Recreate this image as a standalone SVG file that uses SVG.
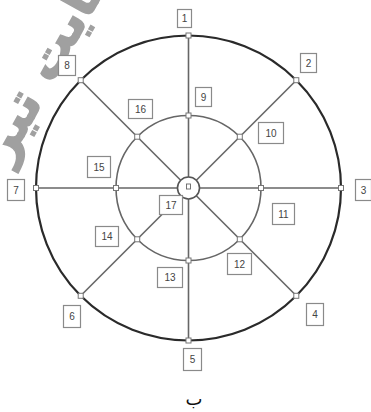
<svg xmlns="http://www.w3.org/2000/svg" width="371" height="412" viewBox="0 0 371 412">
<style>
.lbl rect{fill:#fff;stroke:#8a8a8a;stroke-width:1.2}
.lbl text{font-family:"Liberation Sans",Arial,sans-serif;font-size:10px;fill:#444;text-anchor:middle}
.pt{fill:#fff;stroke:#777;stroke-width:1}
.ray{stroke:#666;stroke-width:1.6;fill:none}
</style>
<rect width="371" height="412" fill="#fff"/>
<text x="0" y="0" transform="translate(8,165) rotate(-61)" font-family="'DejaVu Sans',sans-serif" font-weight="bold" font-size="52" fill="#a0a0a0" stroke="#a0a0a0" stroke-width="1.5">سایت تیر</text>
<g id="connectors">
<circle cx="188.5" cy="188" r="152.5" fill="none" stroke="#2a2a2a" stroke-width="2.2"/>
<circle cx="188.5" cy="188" r="72.5" fill="none" stroke="#666" stroke-width="1.6"/>
<line class="ray" x1="188.5" y1="177" x2="188.5" y2="35.5"/>
<line class="ray" x1="188.5" y1="199" x2="188.5" y2="340.5"/>
<line class="ray" x1="177.5" y1="188" x2="36" y2="188"/>
<line class="ray" x1="199.5" y1="188" x2="341" y2="188"/>
<line class="ray" x1="196.3" y1="180.2" x2="296.3" y2="80.2"/>
<line class="ray" x1="196.3" y1="195.8" x2="296.3" y2="295.8"/>
<line class="ray" x1="180.7" y1="195.8" x2="80.7" y2="295.8"/>
<line class="ray" x1="180.7" y1="180.2" x2="80.7" y2="80.2"/>
</g>
<g id="node0"><circle cx="188.5" cy="188" r="11" fill="#fff" stroke="#555" stroke-width="1.6"/><rect x="186.5" y="184" width="4" height="5" fill="none" stroke="#666" stroke-width="0.9"/></g>
<g id="points">
<rect class="pt" x="186" y="33" width="5" height="5"/>
<rect class="pt" x="293.8" y="77.7" width="5" height="5"/>
<rect class="pt" x="338.5" y="185.5" width="5" height="5"/>
<rect class="pt" x="293.8" y="293.3" width="5" height="5"/>
<rect class="pt" x="186" y="338" width="5" height="5"/>
<rect class="pt" x="78.2" y="293.3" width="5" height="5"/>
<rect class="pt" x="33.5" y="185.5" width="5" height="5"/>
<rect class="pt" x="78.2" y="77.7" width="5" height="5"/>
<rect class="pt" x="186" y="113" width="5" height="5"/>
<rect class="pt" x="237.3" y="134.2" width="5" height="5"/>
<rect class="pt" x="258.5" y="185.5" width="5" height="5"/>
<rect class="pt" x="237.3" y="236.8" width="5" height="5"/>
<rect class="pt" x="186" y="258" width="5" height="5"/>
<rect class="pt" x="134.7" y="236.8" width="5" height="5"/>
<rect class="pt" x="113.5" y="185.5" width="5" height="5"/>
<rect class="pt" x="134.7" y="134.2" width="5" height="5"/>
</g>
<g id="n1" class="lbl"><rect x="177.5" y="9.5" width="14" height="18"/><text x="184.5" y="22">1</text></g>
<g id="n2" class="lbl"><rect x="300.5" y="53.5" width="16" height="19"/><text x="308.5" y="66.5">2</text></g>
<g id="n3" class="lbl"><rect x="355.5" y="179.5" width="16" height="21"/><text x="363.5" y="194">3</text></g>
<g id="n4" class="lbl"><rect x="306.5" y="303.5" width="17" height="22"/><text x="315" y="318">4</text></g>
<g id="n5" class="lbl"><rect x="183.5" y="348.5" width="18" height="22"/><text x="192.5" y="363">5</text></g>
<g id="n6" class="lbl"><rect x="63.5" y="305.5" width="17" height="22"/><text x="72" y="320">6</text></g>
<g id="n7" class="lbl"><rect x="7.5" y="179.5" width="17" height="21"/><text x="16" y="194">7</text></g>
<g id="n8" class="lbl"><rect x="58.5" y="55.5" width="17" height="20"/><text x="67" y="69">8</text></g>
<g id="n9" class="lbl"><rect x="195.5" y="87.5" width="16" height="19"/><text x="203.5" y="100.5">9</text></g>
<g id="n10" class="lbl"><rect x="258.5" y="122.5" width="25" height="21"/><text x="271" y="136.5">10</text></g>
<g id="n11" class="lbl"><rect x="272.5" y="203.5" width="22" height="21"/><text x="283.5" y="217.5">11</text></g>
<g id="n12" class="lbl"><rect x="227.5" y="253.5" width="24" height="21"/><text x="239.5" y="267.5">12</text></g>
<g id="n13" class="lbl"><rect x="157.5" y="267.5" width="25" height="20"/><text x="170" y="281">13</text></g>
<g id="n14" class="lbl"><rect x="95.5" y="226.5" width="23" height="20"/><text x="107" y="240">14</text></g>
<g id="n15" class="lbl"><rect x="87.5" y="156.5" width="23" height="21"/><text x="99" y="170.5">15</text></g>
<g id="n16" class="lbl"><rect x="128.5" y="99.5" width="24" height="19"/><text x="140.5" y="112.5">16</text></g>
<g id="n17" class="lbl"><rect x="159.5" y="195.5" width="23" height="19"/><text x="171" y="208.5">17</text></g>
<text x="194" y="405" font-family="'DejaVu Sans','Noto Sans',sans-serif" font-size="18" fill="#111" text-anchor="middle">ب</text>
</svg>
